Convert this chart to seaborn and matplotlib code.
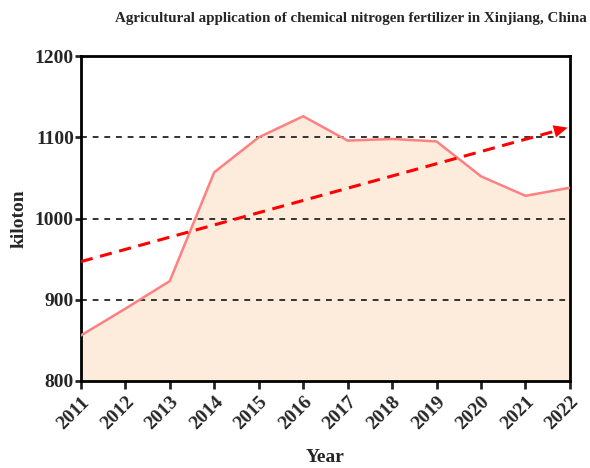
import numpy as np
import pandas as pd
import seaborn as sns
import matplotlib.pyplot as plt

years = [2011, 2012, 2013, 2014, 2015, 2016, 2017, 2018, 2019, 2020, 2021, 2022]
nitrogen = [856, 889, 923, 1057, 1100, 1126, 1096, 1098, 1095, 1052, 1028, 1038]
y_ticks = [800, 900, 1000, 1100, 1200]

sns.set_style("ticks")
plt.rcParams['font.family'] = ['Liberation Serif', 'DejaVu Serif']
plt.rcParams['font.weight'] = 'bold'

df = pd.DataFrame({'Year': years, 'kiloton': nitrogen})

fig = plt.figure(figsize=(5.9, 4.68), dpi=100)
ax = fig.add_axes([0.137, 0.186, 0.829, 0.694])

ax.fill_between(df['Year'], df['kiloton'], 800, color='#fdebdc', zorder=1)
for g in [900, 1000, 1100]:
    ax.axhline(g, color='#333333', linestyle=(0, (3, 3)), linewidth=1.4, zorder=2)
sns.lineplot(data=df, x='Year', y='kiloton', color='#ff8080', linewidth=1.8, ax=ax, zorder=3)

# linear trend
k, b = np.polyfit(years, nitrogen, 1)
x0, x1 = years[0], years[-1]
xs = np.array([x0, x1 - 0.3])
ax.plot(xs, k * xs + b, color='red', linestyle=(0, (4, 2.5)), linewidth=2.2, zorder=4)
ax.annotate('', xy=(x1 - 0.05, k * (x1 - 0.05) + b), xytext=(x1 - 0.4, k * (x1 - 0.4) + b),
            arrowprops=dict(arrowstyle='-|>,head_length=1.0,head_width=0.45', color='red', lw=0, shrinkA=0, shrinkB=0),
            zorder=5)

ax.set_xlim(2011, 2022)
ax.set_ylim(800, 1200)
ax.set_xticks(years)
ax.set_yticks(y_ticks)
ax.set_xticklabels([str(y) for y in years], rotation=45, ha='right', rotation_mode='anchor',
                   fontsize=14, fontweight='bold')
ax.set_yticklabels([str(t) for t in y_ticks], fontsize=14, fontweight='bold')
ax.tick_params(axis='y', direction='out', length=4, width=2, pad=1)
ax.tick_params(axis='x', direction='out', length=6, width=2, pad=3)
for s in ax.spines.values():
    s.set_linewidth(2)
    s.set_color('black')

ax.set_xlabel('Year', fontsize=14, fontweight='bold', labelpad=11)
ax.set_ylabel('kiloton', fontsize=14, fontweight='bold', labelpad=5)
fig.suptitle('Agricultural application of chemical nitrogen fertilizer in Xinjiang, China',
             x=0.595, y=0.975, fontsize=10.8, fontweight='bold')

fig.savefig('out.png', dpi=100)
